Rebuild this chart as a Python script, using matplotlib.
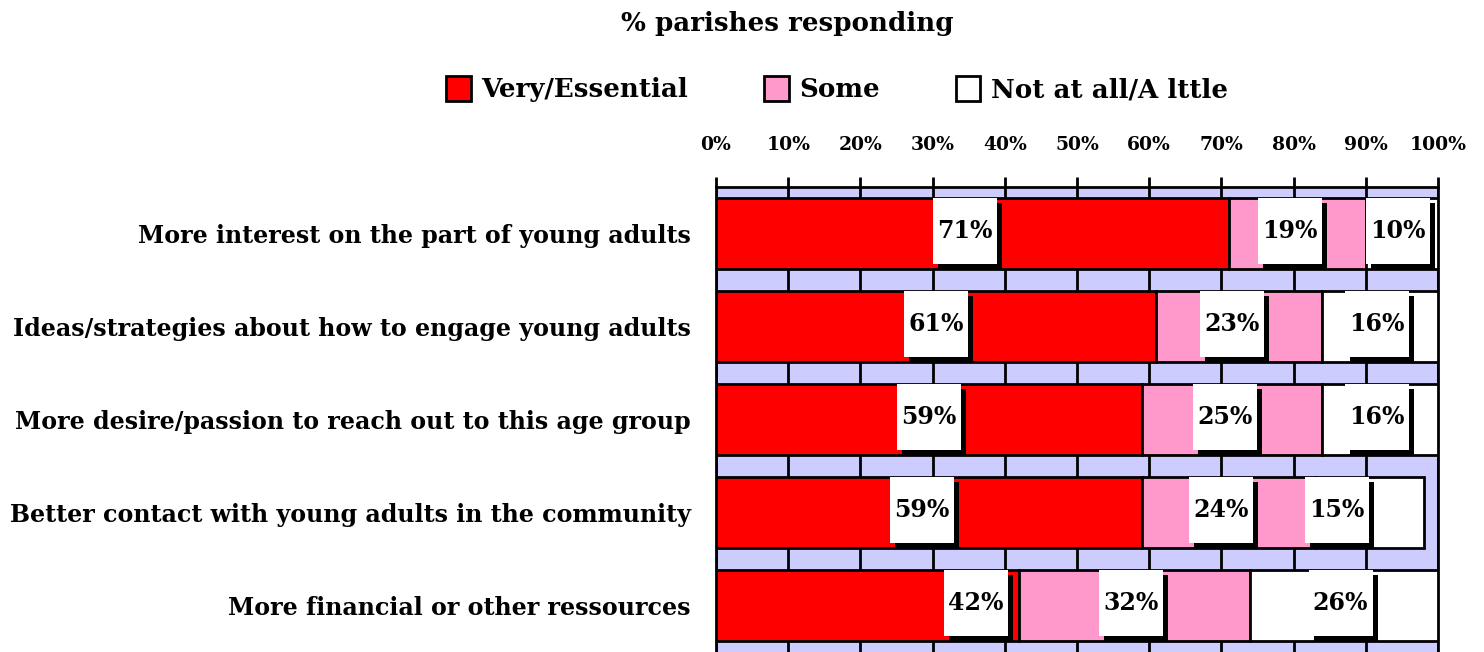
import numpy as np
import matplotlib
matplotlib.use('Agg')
import matplotlib.pyplot as plt
from matplotlib.patches import Patch, Rectangle

# data
categories = ['More interest on the part of young adults',
              'Ideas/strategies about how to engage young adults',
              'More desire/passion to reach out to this age group',
              'Better contact with young adults in the community',
              'More financial or other ressources']
very = [71, 61, 59, 59, 42]
some = [19, 23, 25, 24, 32]
little = [10, 16, 16, 15, 26]
series_names = ['Very/Essential', 'Some', 'Not at all/A lttle']

# label nudges (percent units), layout only
nudge = [[-1, -1, -0.5], [0, -1, -0.5], [0, -1, -0.5], [-1, -1, -4.5], [15, -0.5, -0.5]]

colors = ['#FF0000', '#FF99CC', '#FFFFFF']
plt.rcParams['font.family'] = 'DejaVu Serif'
plt.rcParams['font.weight'] = 'bold'

W, H = 1484, 652
fig = plt.figure(figsize=(W / 100, H / 100), dpi=100)
unit = 93.0
ylo, yhi = -0.5, 4.62
top = 187
bot = top + (yhi - ylo) * unit
ax = fig.add_axes([716 / W, (H - bot) / H, 722 / W, (bot - top) / H])
ax.set_facecolor('#CCCCFF')

y = np.arange(len(categories))
left = np.zeros(len(categories))
vals = [very, some, little]
for k, v in enumerate(vals):
    ax.barh(y, v, left=left, height=0.76, color=colors[k], edgecolor='black', lw=2, zorder=3)
    for i in range(len(y)):
        cx = left[i] + v[i] / 2 + nudge[i][k]
        cy = y[i] - 0.03
        bw, bh = 64 / 7.22, 66 / unit
        ax.add_patch(Rectangle((cx - bw / 2 + 5 / 7.22, cy - bh / 2 + 5 / unit), bw, bh,
                               fc='black', ec='none', zorder=4))
        ax.add_patch(Rectangle((cx - bw / 2, cy - bh / 2), bw, bh, fc='white', ec='none', zorder=5))
        ax.text(cx, cy, '%d%%' % v[i], ha='center', va='center', fontsize=17, zorder=6)
    left = left + np.array(v)

ax.set_xlim(0, 100)
ax.set_ylim(yhi, ylo)
ax.xaxis.tick_top()
ax.set_xticks(np.arange(0, 101, 10))
ax.set_xticklabels(['%d%%' % t for t in range(0, 101, 10)], fontsize=13.5)
ax.tick_params(axis='x', length=7, width=2, pad=17)
ax.grid(axis='x', color='black', lw=2, zorder=0)
ax.set_axisbelow(True)
ax.set_yticks(y)
ax.set_yticklabels(categories, fontsize=17.1)
ax.tick_params(axis='y', length=0, pad=18)
for s in ax.spines.values():
    s.set_linewidth(2)
ax.spines['bottom'].set_visible(False)

fig.text(787 / W, 1 - 23 / H, '% parishes responding', ha='center', va='center', fontsize=18.8)
handles = [Patch(fc=c, ec='black', lw=2) for c in colors]
fig.legend(handles, series_names, loc='center', bbox_to_anchor=(837 / W, 1 - 89 / H), ncol=3,
           frameon=False, fontsize=18.8, handlelength=0.95, handleheight=1.1, handletextpad=0.4,
           columnspacing=2.9)

fig.savefig('out.png', dpi=100)
